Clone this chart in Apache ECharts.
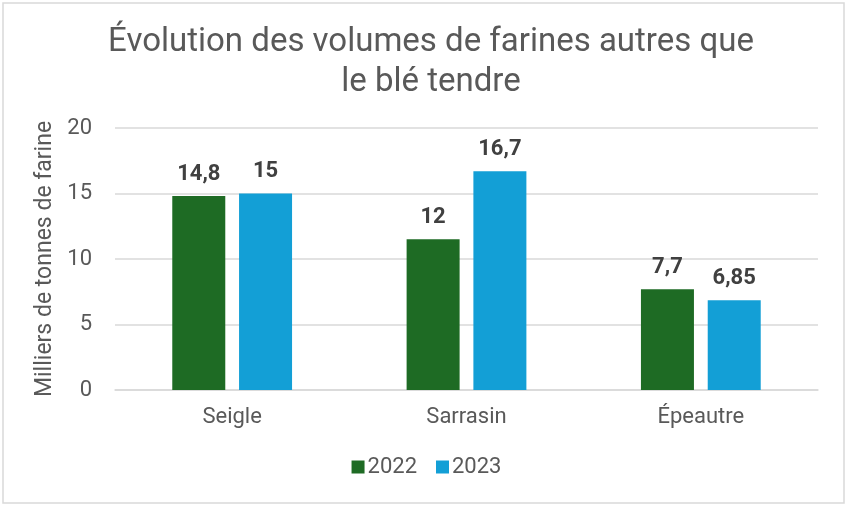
<!DOCTYPE html>
<html>
<head>
<meta charset="utf-8">
<script src="https://cdn.jsdelivr.net/npm/echarts@6/dist/echarts.min.js"></script>
<style>
  html, body { margin: 0; padding: 0; background: #fff; }
  #chart { width: 853px; height: 511px; }
</style>
</head>
<body>
<div id="chart"></div>
<script>
// données
var categories = ['Seigle', 'Sarrasin', 'Épeautre'];
var years = ['2022', '2023'];
var values2022 = [14.8, 11.5, 7.7];
var values2023 = [15, 16.7, 6.85];
// étiquettes affichées (telles que dans l'original)
var labels2022 = ['14,8', '12', '7,7'];
var labels2023 = ['15', '16,7', '6,85'];
var yTicks = [0, 5, 10, 15, 20];

var green = '#1e6b24';
var blue = '#139fd6';
var textColor = '#595959';

window.onload = function () {
    var chart = echarts.init(document.getElementById('chart'));

    function labelOf(arr) {
        return {
            show: true,
            position: 'top',
            distance: 11,
            fontFamily: 'Roboto',
            fontWeight: 'bold',
            fontSize: 22,
            color: '#404040',
            formatter: function (p) { return arr[p.dataIndex]; }
        };
    }

    var option = {
        animation: false,
        textStyle: { fontFamily: 'Roboto' },
        graphic: [{
            type: 'rect',
            shape: { x: 3, y: 3, width: 841, height: 500 },
            style: { fill: 'none', stroke: '#d9d9d9', lineWidth: 1.5 },
            silent: true
        }],
        title: {
            text: 'Évolution des volumes de farines autres que\nle blé tendre',
            left: 426,
            top: 18,
            textAlign: 'center',
            textStyle: {
                fontFamily: 'Roboto',
                fontWeight: 'normal',
                fontSize: 33,
                lineHeight: 40,
                color: textColor
            }
        },
        legend: {
            data: years,
            bottom: 28,
            left: 'center',
            itemWidth: 13,
            itemHeight: 13,
            itemGap: 19,
            icon: 'rect',
            textStyle: { fontSize: 22, color: textColor, padding: [0, 0, 0, -2] }
        },
        grid: { left: 115, right: 35, top: 128, bottom: 121 },
        xAxis: {
            type: 'category',
            data: categories,
            axisTick: { show: false },
            axisLine: { lineStyle: { color: '#d9d9d9', width: 1.5 } },
            axisLabel: { fontSize: 22, color: textColor, margin: 16 }
        },
        yAxis: {
            type: 'value',
            min: yTicks[0],
            max: yTicks[yTicks.length - 1],
            interval: 5,
            name: 'Milliers de tonnes de farine',
            nameLocation: 'middle',
            nameGap: 57,
            nameTextStyle: { fontSize: 23, color: textColor },
            axisLabel: { fontSize: 22, color: textColor, margin: 23 },
            axisLine: { show: false },
            axisTick: { show: false },
            splitLine: { lineStyle: { color: '#d9d9d9', width: 1.5 } }
        },
        series: [{
            name: years[0],
            type: 'bar',
            data: values2022,
            barWidth: 53,
            barGap: '26%',
            itemStyle: { color: green },
            label: labelOf(labels2022)
        }, {
            name: years[1],
            type: 'bar',
            data: values2023,
            barWidth: 53,
            itemStyle: { color: blue },
            label: labelOf(labels2023)
        }]
    };

    chart.setOption(option);
};
</script>
</body>
</html>
